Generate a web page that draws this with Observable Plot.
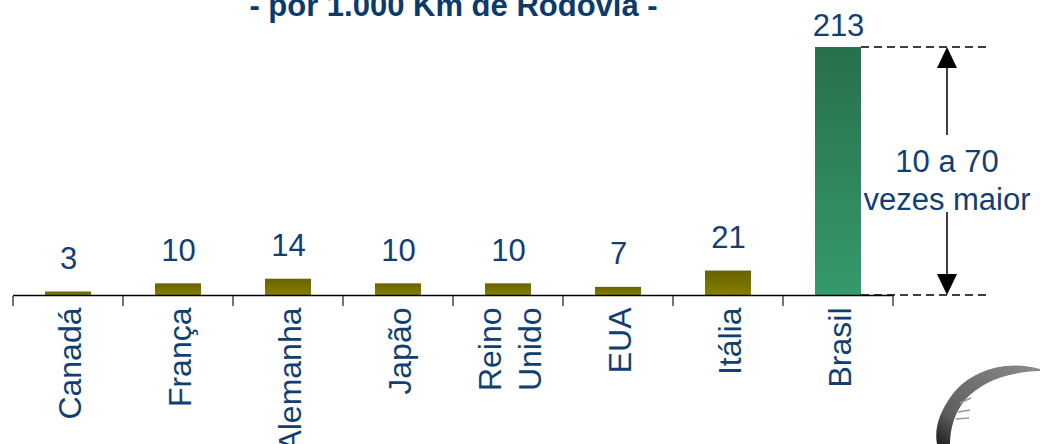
<!DOCTYPE html>
<html><head><meta charset="utf-8">
<script src="https://cdn.jsdelivr.net/npm/d3@7"></script>
<script src="https://cdn.jsdelivr.net/npm/@observablehq/plot@0.6"></script>
<style>html,body{margin:0;padding:0;background:#fff;} svg{display:block}</style>
</head><body><div id="chart"></div>
<script>
const categories = ["Canadá","França","Alemanha","Japão","Reino\nUnido","EUA","Itália","Brasil"];
const values = [3,10,14,10,10,7,21,213];
const highlight = "Brasil";
const titleText = "- por 1.000 Km de Rodovia -";
const noteLines = ["10 a 70","vezes maior"];

const data = categories.map((c,i)=>({cat:c, value:values[i]}));
const others = data.filter(d=>d.cat!==highlight);
const main = data.filter(d=>d.cat===highlight);

const FONT = "'Liberation Sans', Arial, Helvetica, sans-serif";
const BLUE = "#123f73";

function defs(){
  const g = d3.create("svg:defs");
  const o = g.append("linearGradient").attr("id","gOlive").attr("x1",0).attr("y1",0).attr("x2",0).attr("y2",1);
  o.append("stop").attr("offset","0%").attr("stop-color","#6a6300");
  o.append("stop").attr("offset","100%").attr("stop-color","#827f00");
  const gr = g.append("linearGradient").attr("id","gGreen").attr("x1",0).attr("y1",0).attr("x2",0).attr("y2",1);
  gr.append("stop").attr("offset","0%").attr("stop-color","#28704a");
  gr.append("stop").attr("offset","100%").attr("stop-color","#359a6b");
  const lg = g.append("linearGradient").attr("id","gLogo").attr("x1",0).attr("y1",1).attr("x2",1).attr("y2",0);
  lg.append("stop").attr("offset","0%").attr("stop-color","#1e1e1e");
  lg.append("stop").attr("offset","25%").attr("stop-color","#5e5e5e");
  lg.append("stop").attr("offset","100%").attr("stop-color","#8c8c8c");
  return g.node();
}

const plot = Plot.plot({
  width:1040, height:444,
  marginTop:47, marginBottom:149, marginLeft:13, marginRight:147,
  style:{fontFamily:FONT, background:"#fff", overflow:"visible"},
  x:{domain:categories, paddingInner:0.58, paddingOuter:0.29, align:0.5, label:null},
  y:{domain:[0,213], axis:null},
  marks:[
    defs,
    Plot.barY(others, {x:"cat", y:"value", fill:"url(#gOlive)"}),
    Plot.barY(main, {x:"cat", y:"value", fill:"url(#gGreen)"}),
    Plot.text(others, {x:"cat", y:"value", text:d=>String(d.value), dy:-23, lineAnchor:"bottom", fontSize:31, fill:BLUE}),
    Plot.text(main, {x:"cat", y:"value", text:d=>String(d.value), dy:-12, lineAnchor:"bottom", fontSize:31, fill:BLUE}),
    Plot.ruleY([0], {stroke:"#000", strokeWidth:1.3}),
    Plot.axisX({tickSize:0, tickPadding:12, tickRotate:-90, fontSize:32, lineHeight:1.25, fill:BLUE, label:null}),
    Plot.text([titleText], {frameAnchor:"top", dy:-32, lineAnchor:"bottom", fontSize:31, fontWeight:"bold", fill:"#0b3a6b"})
  ]
});
document.getElementById("chart").appendChild(plot);

const svg = d3.select(plot);
const xs = plot.scale("x"), ys = plot.scale("y");
const step = xs.step, bw = xs.bandwidth;
const off = (step - bw)/2;
const bounds = categories.map(c=>xs.apply(c)-off);
bounds.push(xs.apply(categories[categories.length-1]) + bw + off);
const y0 = ys.apply(0), yTop = ys.apply(213);

const tg = svg.append("g").attr("stroke","#444").attr("stroke-width",1.5);
bounds.forEach(b=>tg.append("line").attr("x1",b).attr("x2",b).attr("y1",y0+1).attr("y2",y0+11));

// annotation
const xBarEnd = xs.apply(highlight) + bw;
const xLast = bounds[bounds.length-1];
const ax = xLast + 54;
const ag = svg.append("g");
ag.append("line").attr("x1",xBarEnd).attr("x2",xLast+94).attr("y1",yTop).attr("y2",yTop)
  .attr("stroke","#000").attr("stroke-width",1.5).attr("stroke-dasharray","8,5");
ag.append("line").attr("x1",xBarEnd).attr("x2",xLast+94).attr("y1",y0).attr("y2",y0)
  .attr("stroke","#000").attr("stroke-width",1.5).attr("stroke-dasharray","8,5");
ag.append("line").attr("x1",ax).attr("x2",ax).attr("y1",yTop+18).attr("y2",135).attr("stroke","#000").attr("stroke-width",1.5);
ag.append("line").attr("x1",ax).attr("x2",ax).attr("y1",212).attr("y2",y0-18).attr("stroke","#000").attr("stroke-width",1.5);
ag.append("path").attr("d",`M${ax},${yTop} L${ax-10},${yTop+21} L${ax+10},${yTop+21} Z`).attr("fill","#000");
ag.append("path").attr("d",`M${ax},${y0} L${ax-10},${y0-21} L${ax+10},${y0-21} Z`).attr("fill","#000");
noteLines.forEach((t,i)=>{
  ag.append("text").attr("x",ax).attr("y",172+i*38).attr("text-anchor","middle")
    .attr("font-family",FONT).attr("font-size",31).attr("fill",BLUE).text(t);
});

// logo swoosh
const lgG = svg.append("g");
lgG.append("path").attr("d","M1040,369 C1005,359 970,371 952,395 C940,411 934,428 937,444 L950,444 C950,428 955,412 965,400 C980,383 1005,372 1040,371 Z").attr("fill","url(#gLogo)");
lgG.append("path").attr("d","M960,403 L971,398 M958,412 L970,410 M956,419 L969,418").attr("stroke","#999").attr("stroke-width",1.5).attr("fill","none");
</script>
</body></html>
